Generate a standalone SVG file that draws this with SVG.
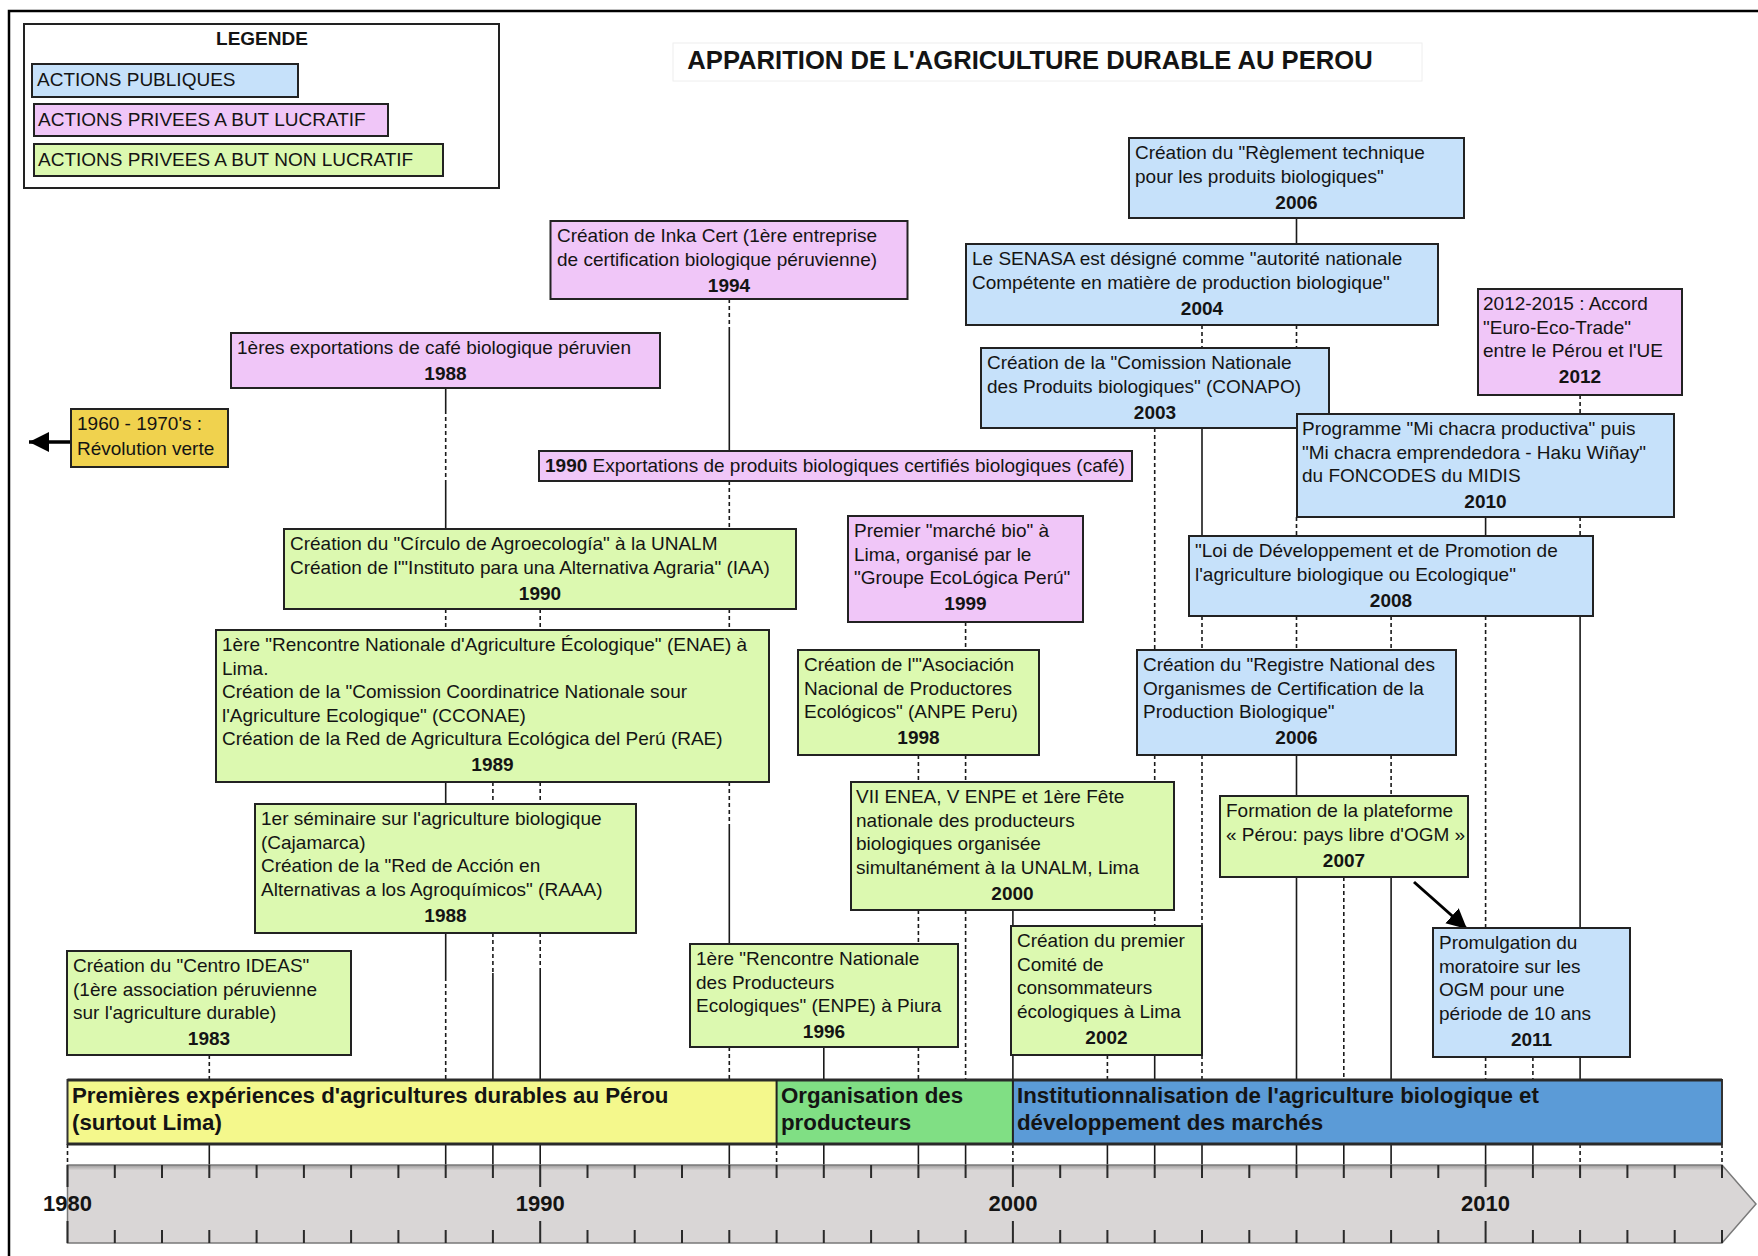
<svg xmlns="http://www.w3.org/2000/svg" width="1758" height="1256" viewBox="0 0 1758 1256">
<style>
text{font-family:"Liberation Sans",Arial,sans-serif;font-size:19px;fill:#141414}
.y{font-weight:bold;text-anchor:middle}
.b{font-weight:bold}
.bx{stroke:#222;stroke-width:2}
.pub{fill:#c6e1fa}
.luc{fill:#f0c6f8}
.nl{fill:#dcf9b0}
.s{stroke:#1a1a1a;stroke-width:1.6;fill:none}
.d{stroke:#1a1a1a;stroke-width:1.6;fill:none;stroke-dasharray:4 3}
.tk{stroke:#2a2a2a;stroke-width:2;fill:none}
.band{font-weight:bold;font-size:22.3px}
</style>
<defs>
<marker id="ah" markerUnits="userSpaceOnUse" markerWidth="22" markerHeight="22" refX="20" refY="10" orient="auto">
<path d="M0,0 L20,10 L0,20 Z" fill="#000"/>
</marker>
<linearGradient id="gr" x1="0" y1="0" x2="0" y2="1">
<stop offset="0" stop-color="#9c9a9a"/>
<stop offset="0.07" stop-color="#d9d6d6"/>
<stop offset="1" stop-color="#d9d6d6"/>
</linearGradient>
</defs>
<rect width="1758" height="1256" fill="#fff"/>
<path d="M9,1256V11H1758" fill="none" stroke="#000" stroke-width="2.5"/>

<g id="title">
<rect x="673" y="43" width="749" height="38" fill="none" stroke="#eeeeee" stroke-width="1"/>
<text x="1030" y="69" text-anchor="middle" style="font-size:25.6px;font-weight:bold">APPARITION DE L'AGRICULTURE DURABLE AU PEROU</text>
</g>

<g id="legend">
<rect x="24" y="24" width="475" height="164" fill="#fff" class="bx"/>
<text x="262" y="45" class="y">LEGENDE</text>
<rect x="32" y="64" width="266" height="33" class="bx pub"/>
<text x="37" y="86">ACTIONS PUBLIQUES</text>
<rect x="34" y="104" width="354" height="32" class="bx luc"/>
<text x="38" y="126">ACTIONS PRIVEES A BUT LUCRATIF</text>
<rect x="34" y="144" width="409" height="32" class="bx nl"/>
<text x="38" y="166">ACTIONS PRIVEES A BUT NON LUCRATIF</text>
</g>

<g id="connectors">
<path class="s" d="M209.3,1144V1165 M445.7,388V410 M445.7,482V529 M445.7,782V804 M445.7,933V977 M445.7,1144V1165 M492.9,973V1080 M492.9,1144V1165 M540.2,970V1080 M540.2,1144V1165 M729.3,330V451 M729.3,827V944 M729.3,1144V1165 M823.8,1047V1080 M823.8,1144V1165 M918.4,1144V1165 M965.6,1144V1165 M1012.9,910V926 M1012.9,1055V1080 M1107.4,1144V1165 M1154.7,1055V1080 M1154.7,1144V1165 M1202,428V536 M1202,1144V1165 M1296.5,218V244 M1296.5,755V796 M1296.5,877V1080 M1296.5,1144V1165 M1343.8,1144V1165 M1391.1,877V1080 M1391.1,1144V1165 M1485.6,517V536 M1485.6,1144V1165 M1532.9,1144V1165 M1580.1,616V928 M1580.1,1057V1080"/>
<path class="d" d="M209.3,1055V1080 M445.7,410V482 M445.7,609V630 M445.7,977V1080 M492.9,782V804 M492.9,933V973 M540.2,609V630 M540.2,782V804 M540.2,933V970 M729.3,299V330 M729.3,481V529 M729.3,609V630 M729.3,782V827 M729.3,1047V1080 M918.4,755V782 M918.4,910V944 M918.4,1047V1080 M965.6,622V650 M965.6,755V782 M965.6,910V1080 M1107.4,1055V1080 M1154.7,428V650 M1154.7,755V782 M1154.7,910V926 M1202,325V348 M1202,616V650 M1202,755V926 M1202,1055V1080 M1296.5,325V348 M1296.5,517V536 M1296.5,616V650 M1343.8,877V1080 M1391.1,616V650 M1391.1,755V796 M1485.6,616V928 M1485.6,1057V1080 M1532.9,1057V1080 M1580.1,395V414 M1580.1,517V536 M67.5,1144V1165 M776.6,1144V1165 M1012.9,1144V1165 M1580.1,1144V1165 M1722,1144V1165"/>
<line x1="71" y1="442" x2="29" y2="442" stroke="#000" stroke-width="3.5" marker-end="url(#ah)"/>
<line x1="1414" y1="882" x2="1467" y2="929" stroke="#000" stroke-width="3" marker-end="url(#ah)"/>
</g>

<g id="n-inka">
<rect x="550.5" y="221" width="357" height="78" class="bx luc"/>
<text x="557" y="242">Création de Inka Cert (1ère entreprise</text>
<text x="557" y="265.5">de certification biologique péruvienne)</text>
<text x="729" y="291.5" class="y">1994</text>
</g>
<g id="n-reglement">
<rect x="1129" y="138" width="335" height="80" class="bx pub"/>
<text x="1135" y="159">Création du "Règlement technique</text>
<text x="1135" y="182.5">pour les produits biologiques"</text>
<text x="1296.5" y="208.5" class="y">2006</text>
</g>
<g id="n-senasa">
<rect x="966" y="244" width="472" height="81" class="bx pub"/>
<text x="972" y="265">Le SENASA est désigné comme "autorité nationale</text>
<text x="972" y="288.5">Compétente en matière de production biologique"</text>
<text x="1202" y="314.5" class="y">2004</text>
</g>
<g id="n-accord">
<rect x="1478" y="289" width="204" height="106" class="bx luc"/>
<text x="1483" y="310">2012-2015 : Accord</text>
<text x="1483" y="333.5">"Euro-Eco-Trade"</text>
<text x="1483" y="357">entre le Pérou et l'UE</text>
<text x="1580" y="383" class="y">2012</text>
</g>
<g id="n-conapo">
<rect x="981" y="348" width="348" height="80" class="bx pub"/>
<text x="987" y="369">Création de la "Comission Nationale</text>
<text x="987" y="392.5">des Produits biologiques" (CONAPO)</text>
<text x="1155" y="418.5" class="y">2003</text>
</g>
<g id="n-michacra">
<rect x="1297" y="414" width="377" height="103" class="bx pub"/>
<text x="1302" y="435">Programme "Mi chacra productiva" puis</text>
<text x="1302" y="458.5">"Mi chacra emprendedora - Haku Wiñay"</text>
<text x="1302" y="482">du FONCODES du MIDIS</text>
<text x="1485.5" y="508" class="y">2010</text>
</g>
<g id="n-cafe">
<rect x="231" y="333" width="429" height="55" class="bx luc"/>
<text x="237" y="354">1ères exportations de café biologique péruvien</text>
<text x="445.5" y="380" class="y">1988</text>
</g>
<g id="n-revolution">
<rect x="71" y="409" width="157" height="58" class="bx" fill="#f0d24e"/>
<text x="77" y="430">1960 - 1970's :</text>
<text x="77" y="455">Révolution verte</text>
</g>
<g id="n-export1990">
<rect x="539" y="451" width="593" height="30" class="bx luc"/>
<text x="545" y="472"><tspan class="b">1990</tspan> Exportations de produits biologiques certifiés biologiques (café)</text>
</g>
<g id="n-circulo">
<rect x="284" y="529" width="512" height="80" class="bx nl"/>
<text x="290" y="550">Création du "Círculo de Agroecología" à la UNALM</text>
<text x="290" y="573.5">Création de l'"Instituto para una Alternativa Agraria" (IAA)</text>
<text x="540" y="599.5" class="y">1990</text>
</g>
<g id="n-marche">
<rect x="848" y="516" width="235" height="106" class="bx luc"/>
<text x="854" y="537">Premier "marché bio" à</text>
<text x="854" y="560.5">Lima, organisé par le</text>
<text x="854" y="584">"Groupe EcoLógica Perú"</text>
<text x="965.5" y="610" class="y">1999</text>
</g>
<g id="n-loi">
<rect x="1189" y="536" width="404" height="80" class="bx pub"/>
<text x="1195" y="557">"Loi de Développement et de Promotion de</text>
<text x="1195" y="580.5">l'agriculture biologique ou Ecologique"</text>
<text x="1391" y="606.5" class="y">2008</text>
</g>
<g id="n-enae">
<rect x="216" y="630" width="553" height="152" class="bx nl"/>
<text x="222" y="651">1ère "Rencontre Nationale d'Agriculture Écologique" (ENAE) à</text>
<text x="222" y="674.5">Lima.</text>
<text x="222" y="698">Création de la "Comission Coordinatrice Nationale sour</text>
<text x="222" y="721.5">l'Agriculture Ecologique" (CCONAE)</text>
<text x="222" y="745">Création de la Red de Agricultura Ecológica del Perú (RAE)</text>
<text x="492.5" y="771" class="y">1989</text>
</g>
<g id="n-anpe">
<rect x="798" y="650" width="241" height="105" class="bx nl"/>
<text x="804" y="671">Création de l'"Asociación</text>
<text x="804" y="694.5">Nacional de Productores</text>
<text x="804" y="718">Ecológicos" (ANPE Peru)</text>
<text x="918.5" y="744" class="y">1998</text>
</g>
<g id="n-registre">
<rect x="1137" y="650" width="319" height="105" class="bx pub"/>
<text x="1143" y="671">Création du "Registre National des</text>
<text x="1143" y="694.5">Organismes de Certification de la</text>
<text x="1143" y="718">Production Biologique"</text>
<text x="1296.5" y="744" class="y">2006</text>
</g>
<g id="n-raaa">
<rect x="255" y="804" width="381" height="129" class="bx nl"/>
<text x="261" y="825">1er séminaire sur l'agriculture biologique</text>
<text x="261" y="848.5">(Cajamarca)</text>
<text x="261" y="872">Création de la "Red de Acción en</text>
<text x="261" y="895.5">Alternativas a los Agroquímicos" (RAAA)</text>
<text x="445.5" y="921.5" class="y">1988</text>
</g>
<g id="n-enea">
<rect x="851" y="782" width="323" height="128" class="bx nl"/>
<text x="856" y="803">VII ENEA, V ENPE et 1ère Fête</text>
<text x="856" y="826.5">nationale des producteurs</text>
<text x="856" y="850">biologiques organisée</text>
<text x="856" y="873.5">simultanément à la UNALM, Lima</text>
<text x="1012.5" y="899.5" class="y">2000</text>
</g>
<g id="n-plateforme">
<rect x="1220" y="796" width="248" height="81" class="bx nl"/>
<text x="1226" y="817">Formation de la plateforme</text>
<text x="1226" y="840.5">« Pérou: pays libre d'OGM »</text>
<text x="1344" y="866.5" class="y">2007</text>
</g>
<g id="n-ideas">
<rect x="67" y="951" width="284" height="104" class="bx nl"/>
<text x="73" y="972">Création du "Centro IDEAS"</text>
<text x="73" y="995.5">(1ère association péruvienne</text>
<text x="73" y="1019">sur l'agriculture durable)</text>
<text x="209" y="1045" class="y">1983</text>
</g>
<g id="n-enpe">
<rect x="690" y="944" width="268" height="103" class="bx nl"/>
<text x="696" y="965">1ère "Rencontre Nationale</text>
<text x="696" y="988.5">des Producteurs</text>
<text x="696" y="1012">Ecologiques" (ENPE) à Piura</text>
<text x="824" y="1038" class="y">1996</text>
</g>
<g id="n-comite">
<rect x="1011" y="926" width="191" height="129" class="bx nl"/>
<text x="1017" y="947">Création du premier</text>
<text x="1017" y="970.5">Comité de</text>
<text x="1017" y="994">consommateurs</text>
<text x="1017" y="1017.5">écologiques à Lima</text>
<text x="1106.5" y="1043.5" class="y">2002</text>
</g>
<g id="n-moratoire">
<rect x="1433" y="928" width="197" height="129" class="bx pub"/>
<text x="1439" y="949">Promulgation du</text>
<text x="1439" y="972.5">moratoire sur les</text>
<text x="1439" y="996">OGM pour une</text>
<text x="1439" y="1019.5">période de 10 ans</text>
<text x="1531.5" y="1045.5" class="y">2011</text>
</g>

<g id="periods">
<rect x="67.5" y="1080" width="709.1" height="64" fill="#f4f88c"/>
<rect x="776.6" y="1080" width="236.3" height="64" fill="#80df84"/>
<rect x="1012.9" y="1080" width="709.1" height="64" fill="#5b9bd7"/>
<rect x="67.5" y="1080" width="1654.5" height="64" fill="none" stroke="#333" stroke-width="2"/>
<path d="M67.5,1080H1722 M67.5,1144H1722" stroke="#2a2a2a" stroke-width="3"/>
<path d="M776.6,1080V1144 M1012.9,1080V1144" stroke="#222" stroke-width="2"/>
<text x="72" y="1103" class="band">Premières expériences d'agricultures durables au Pérou</text>
<text x="72" y="1130" class="band">(surtout Lima)</text>
<text x="781" y="1103" class="band">Organisation des</text>
<text x="781" y="1130" class="band">producteurs</text>
<text x="1017" y="1103" class="band">Institutionnalisation de l'agriculture biologique et</text>
<text x="1017" y="1130" class="band">développement des marchés</text>
</g>

<g id="timeline">
<path d="M67.5,1165H1722L1756,1204L1722,1243H67.5Z" fill="url(#gr)" stroke="#7a7a7a" stroke-width="1.5"/>
<path class="tk" d="M67.5,1165V1187M67.5,1221V1243 M114.8,1165V1178M114.8,1230V1243 M162,1165V1178M162,1230V1243 M209.3,1165V1178M209.3,1230V1243 M256.6,1165V1178M256.6,1230V1243 M303.9,1165V1178M303.9,1230V1243 M351.1,1165V1178M351.1,1230V1243 M398.4,1165V1178M398.4,1230V1243 M445.7,1165V1178M445.7,1230V1243 M492.9,1165V1178M492.9,1230V1243 M540.2,1165V1187M540.2,1221V1243 M587.5,1165V1178M587.5,1230V1243 M634.7,1165V1178M634.7,1230V1243 M682,1165V1178M682,1230V1243 M729.3,1165V1178M729.3,1230V1243 M776.6,1165V1178M776.6,1230V1243 M823.8,1165V1178M823.8,1230V1243 M871.1,1165V1178M871.1,1230V1243 M918.4,1165V1178M918.4,1230V1243 M965.6,1165V1178M965.6,1230V1243 M1012.9,1165V1187M1012.9,1221V1243 M1060.2,1165V1178M1060.2,1230V1243 M1107.4,1165V1178M1107.4,1230V1243 M1154.7,1165V1178M1154.7,1230V1243 M1202,1165V1178M1202,1230V1243 M1249.3,1165V1178M1249.3,1230V1243 M1296.5,1165V1178M1296.5,1230V1243 M1343.8,1165V1178M1343.8,1230V1243 M1391.1,1165V1178M1391.1,1230V1243 M1438.3,1165V1178M1438.3,1230V1243 M1485.6,1165V1187M1485.6,1221V1243 M1532.9,1165V1178M1532.9,1230V1243 M1580.1,1165V1178M1580.1,1230V1243 M1627.4,1165V1178M1627.4,1230V1243 M1674.7,1165V1178M1674.7,1230V1243 M1722,1165V1178M1722,1230V1243"/>
<text x="67.5" y="1211" class="y" style="font-size:22px">1980</text>
<text x="540.2" y="1211" class="y" style="font-size:22px">1990</text>
<text x="1012.9" y="1211" class="y" style="font-size:22px">2000</text>
<text x="1485.6" y="1211" class="y" style="font-size:22px">2010</text>
</g>
</svg>
